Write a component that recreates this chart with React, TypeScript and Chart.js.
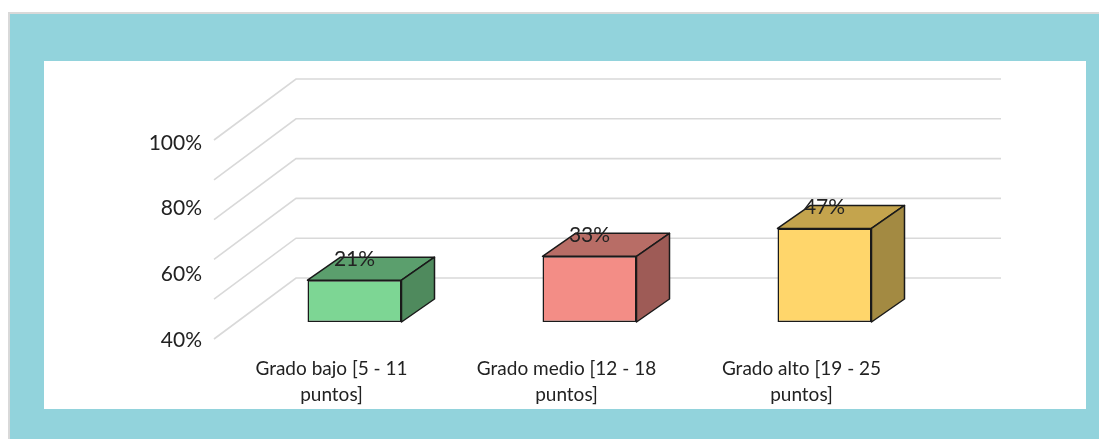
import { useEffect, useRef } from "react";
import { Chart, registerables } from "chart.js";

Chart.register(...registerables);

// ---- data ----
const CATEGORIES: string[][] = [
  ["Grado bajo [5 - 11", "puntos]"],
  ["Grado medio [12 - 18", "puntos]"],
  ["Grado alto [19 - 25", "puntos]"],
];
const VALUES: number[] = [21, 33, 47];
const AXIS_MIN = 40;
const AXIS_STEP = 20;
const GRID_VALUES: number[] = [0, 20, 40, 60, 80, 100];

// ---- styles ----
const FRONT_COLORS = ["#7DD694", "#F38D86", "#FFD66B"];
const TOP_COLORS = ["#5B9F6D", "#B86D66", "#C4A44D"];
const SIDE_COLORS = ["#4F8A5D", "#9E5B56", "#A38A42"];
const TEAL = "#92D3DC";
const FONT = "Lato, 'Open Sans', sans-serif";
const BAR_DX = 33;
const BAR_DY = -23;
const FRONT_DX = -23;
const FRONT_DY = 17;
const BACK_DX = 59;
const BACK_DY = -44;

const backgroundPlugin = {
  id: "bgFrame",
  beforeDraw(chart: any) {
    const { ctx, width, height } = chart;
    ctx.save();
    ctx.fillStyle = "#ffffff";
    ctx.fillRect(0, 0, width, height);
    ctx.fillStyle = "#D9D9D9";
    ctx.fillRect(8, 12, width - 8, height - 12);
    ctx.fillStyle = TEAL;
    ctx.fillRect(10, 14, width - 10, height - 14);
    ctx.fillStyle = "#ffffff";
    ctx.fillRect(44, 61, 1042, 348);
    ctx.restore();
  },
};

const gridPlugin = {
  id: "grid3d",
  beforeDatasetsDraw(chart: any) {
    const { ctx, chartArea } = chart;
    const yb = chart.scales.yb;
    ctx.save();
    ctx.strokeStyle = "#D9D9D9";
    ctx.lineWidth = 1.6;
    GRID_VALUES.forEach((v) => {
      const py = yb.getPixelForValue(v);
      ctx.beginPath();
      ctx.moveTo(chartArea.left + FRONT_DX, py + FRONT_DY);
      ctx.lineTo(chartArea.left + BACK_DX, py + BACK_DY);
      ctx.lineTo(chartArea.right + BACK_DX, py + BACK_DY);
      ctx.stroke();
    });
    ctx.restore();
  },
};

const box3dPlugin = {
  id: "box3d",
  afterDatasetsDraw(chart: any) {
    const { ctx } = chart;
    const meta = chart.getDatasetMeta(0);
    ctx.save();
    ctx.lineWidth = 1.5;
    ctx.strokeStyle = "#1a1a1a";
    ctx.lineJoin = "round";
    meta.data.forEach((bar: any, i: number) => {
      const { x, y, base, width } = bar.getProps(["x", "y", "base", "width"], true);
      const l = x - width / 2;
      const r = x + width / 2;
      // top face
      ctx.beginPath();
      ctx.moveTo(l, y);
      ctx.lineTo(r, y);
      ctx.lineTo(r + BAR_DX, y + BAR_DY);
      ctx.lineTo(l + BAR_DX, y + BAR_DY);
      ctx.closePath();
      ctx.fillStyle = TOP_COLORS[i];
      ctx.fill();
      ctx.stroke();
      // side face
      ctx.beginPath();
      ctx.moveTo(r, y);
      ctx.lineTo(r + BAR_DX, y + BAR_DY);
      ctx.lineTo(r + BAR_DX, base + BAR_DY);
      ctx.lineTo(r, base);
      ctx.closePath();
      ctx.fillStyle = SIDE_COLORS[i];
      ctx.fill();
      ctx.stroke();
    });
    // data labels
    ctx.fillStyle = "#222222";
    ctx.font = `21px ${FONT}`;
    ctx.textAlign = "center";
    ctx.textBaseline = "middle";
    meta.data.forEach((bar: any, i: number) => {
      const { x, y } = bar.getProps(["x", "y"], true);
      ctx.fillText(`${VALUES[i]}%`, x, y - 21);
    });
    ctx.restore();
  },
};

export default function App() {
  const ref = useRef<HTMLCanvasElement>(null);
  useEffect(() => {
    const canvas = ref.current!;
    const chart = new Chart(canvas, {
      type: "bar",
      data: {
        labels: CATEGORIES,
        datasets: [
          {
            data: VALUES,
            yAxisID: "yb",
            backgroundColor: FRONT_COLORS,
            borderColor: "#1a1a1a",
            borderWidth: 1.5,
            borderSkipped: false,
            categoryPercentage: 1,
            barPercentage: 0.4,
          },
        ],
      },
      options: {
        responsive: false,
        animation: false,
        devicePixelRatio: 1,
        layout: { padding: { left: 0, top: 123, right: 157, bottom: 0 } },
        plugins: { legend: { display: false }, tooltip: { enabled: false } },
        scales: {
          x: {
            type: "category",
            grid: { display: false, drawTicks: false },
            border: { display: false },
            ticks: {
              color: "#222222",
              font: { family: FONT, size: 19, lineHeight: 1.35 },
              labelOffset: FRONT_DX,
              padding: 16,
              maxRotation: 0,
              autoSkip: false,
            },
            afterFit: (s: any) => {
              s.height = 99;
            },
          },
          y: {
            type: "linear",
            position: "left",
            min: AXIS_MIN,
            max: 106.1,
            grid: { display: false, drawTicks: false },
            border: { display: false },
            ticks: {
              stepSize: AXIS_STEP,
              includeBounds: false,
              color: "#222222",
              font: { family: FONT, size: 21 },
              padding: 35,
              callback: (v: any) => `${v}%`,
            },
            afterFit: (s: any) => {
              s.width = 237;
            },
          },
          yb: {
            type: "linear",
            display: false,
            min: -9.05,
            max: 100,
          },
        },
      },
      plugins: [backgroundPlugin, gridPlugin, box3dPlugin],
    } as any);
    return () => chart.destroy();
  }, []);
  return (
    <div style={{ position: "fixed", left: 0, top: 0, width: 1099, height: 439 }}>
      <canvas ref={ref} width={1099} height={439} style={{ display: "block" }} />
    </div>
  );
}
